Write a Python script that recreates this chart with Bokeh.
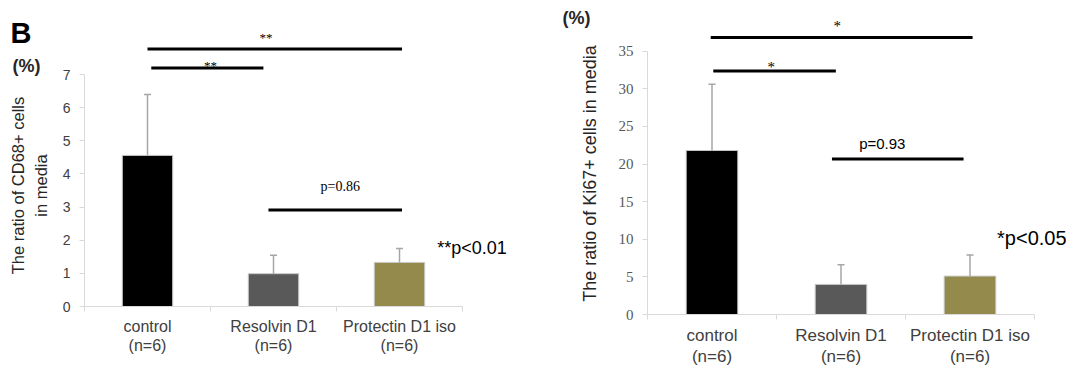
import math
from bokeh.plotting import figure
from bokeh.models import (ColumnDataSource, FixedTicker, Range1d, Label, Whisker, TeeHead)
from bokeh.layouts import row
from bokeh.embed import file_html
from bokeh.resources import INLINE

# ---------------- data ----------------
groups = ["control\n(n=6)", "Resolvin D1\n(n=6)", "Protectin D1 iso\n(n=6)"]
group_pos = [0.5, 1.5, 2.5]
bar_colors = ["#000000", "#595959", "#948A4C"]

cd68_mean = [4.56, 0.99, 1.33]
cd68_sd = [1.84, 0.56, 0.42]
cd68_ticks = [0, 1, 2, 3, 4, 5, 6, 7]
cd68_ylabel = ["The ratio of CD68+ cells", "in media"]

ki67_mean = [21.8, 4.0, 5.1]
ki67_sd = [8.8, 2.6, 2.8]
ki67_ticks = [0, 5, 10, 15, 20, 25, 30, 35]
ki67_ylabel = ["The ratio of Ki67+ cells in media"]

# significance brackets: (x_start, x_end, y, label, label_x, label_y)
cd68_brackets = [
    (0.50, 2.52, 7.77, "**", 1.44, 8.13),
    (0.53, 1.42, 7.20, "**", 1.00, 7.27),
    (1.46, 2.52, 2.91, "p=0.86", 2.03, 3.61),
]
ki67_brackets = [
    (0.49, 2.52, 36.8, "*", 1.47, 38.4),
    (0.51, 1.46, 32.35, "*", 0.96, 32.9),
    (1.43, 2.45, 20.65, "p=0.93", 1.82, 22.7),
]

GRAY_AXIS = "#d9d9d9"
SANS = "Liberation Sans"
SERIF = "Liberation Serif"
BOTTOM = 50


def text_strip(x0, width, height):
    """Axis-free strip in page-pixel coordinates (y from top) for side titles."""
    f = figure(frame_width=width, frame_height=height, output_backend="svg",
               toolbar_location=None, tools="",
               x_range=Range1d(x0, x0 + width), y_range=Range1d(height, 0),
               x_axis_type=None, y_axis_type=None,
               min_border_left=0, min_border_right=0,
               min_border_top=0, min_border_bottom=BOTTOM)
    f.outline_line_color = None
    f.xgrid.grid_line_color = None
    f.ygrid.grid_line_color = None
    return f


def make_panel(means, sds, yticks, ymax_axis, y_end, x_end, fw, fh,
               border_left, tick_font, tick_size, tick_color, cat_size):
    p = figure(frame_width=fw, frame_height=fh, output_backend="svg",
               toolbar_location=None, tools="",
               x_range=Range1d(0, x_end), y_range=Range1d(0, y_end),
               min_border_left=border_left, min_border_right=0,
               min_border_top=0, min_border_bottom=BOTTOM)
    p.outline_line_color = None
    p.xgrid.grid_line_color = None
    p.ygrid.grid_line_color = None
    p.background_fill_color = "white"

    ya = p.yaxis[0]
    ya.ticker = FixedTicker(ticks=yticks)
    ya.bounds = (0, ymax_axis)
    ya.axis_line_color = GRAY_AXIS
    ya.major_tick_line_color = GRAY_AXIS
    ya.major_tick_out = 5
    ya.major_tick_in = 0
    ya.minor_tick_line_color = None
    ya.major_label_text_font = tick_font
    ya.major_label_text_font_size = tick_size
    ya.major_label_text_color = tick_color
    ya.major_label_standoff = 9

    xa = p.xaxis[0]
    xa.ticker = FixedTicker(ticks=group_pos, minor_ticks=[0, 1, 2, 3])
    xa.bounds = (0, 3)
    xa.axis_line_color = GRAY_AXIS
    xa.major_tick_line_color = None
    xa.major_tick_out = 0
    xa.major_tick_in = 0
    xa.minor_tick_line_color = GRAY_AXIS
    xa.minor_tick_out = 5
    xa.minor_tick_in = 0
    xa.major_label_overrides = {pos: g for pos, g in zip(group_pos, groups)}
    xa.major_label_text_font = SANS
    xa.major_label_text_font_size = cat_size
    xa.major_label_text_color = "#404040"
    xa.major_label_text_line_height = 1.15
    xa.major_label_standoff = 6

    src = ColumnDataSource(dict(
        x=group_pos, top=means, color=bar_colors,
        upper=[m + s for m, s in zip(means, sds)], lower=means))
    p.vbar(x="x", top="top", width=0.4, bottom=0, source=src,
           fill_color="color", line_color="#c8c8c8", line_width=1)
    wh = Whisker(base="x", upper="upper", lower="lower", source=src,
                 line_color="#a6a6a6", line_width=1.5,
                 upper_head=TeeHead(size=7, line_color="#a6a6a6", line_width=1.5),
                 lower_head=None, level="overlay")
    p.add_layout(wh)
    return p


# ---------------- left side strip (page x 0..58) ----------------
hl = text_strip(0, 58, 306)
hl.add_layout(Label(x=10, y=32, text="B", text_align="left", text_baseline="middle",
                    text_font=SANS, text_font_style="bold", text_font_size="29px",
                    text_color="black"))
hl.add_layout(Label(x=12, y=65, text="(%)", text_align="left", text_baseline="middle",
                    text_font=SANS, text_font_style="bold", text_font_size="18px",
                    text_color="#262626"))
for i, line in enumerate(cd68_ylabel):
    hl.add_layout(Label(x=17 + 23 * i, y=185, text=line, angle=math.pi / 2,
                        text_align="center", text_baseline="middle",
                        text_font=SANS, text_font_size="16.5px", text_color="#262626"))

# ---------------- left panel: CD68 (axis at page x 84, zero at page y 306) ----------------
p1 = make_panel(cd68_mean, cd68_sd, cd68_ticks, 7, 306 / 33.14, 461 / 126,
                fw=461, fh=306, border_left=26,
                tick_font=SANS, tick_size="14px", tick_color="#404040",
                cat_size="16px")
p1.segment(x0=[b[0] for b in cd68_brackets], x1=[b[1] for b in cd68_brackets],
           y0=[b[2] for b in cd68_brackets], y1=[b[2] for b in cd68_brackets],
           line_color="black", line_width=3)
for b in cd68_brackets:
    is_p = b[3].startswith("p")
    p1.add_layout(Label(x=b[4], y=b[5], text=b[3], text_align="center",
                        text_baseline="middle", text_font=SERIF,
                        text_font_size="14px" if is_p else "13px",
                        text_color="black"))
p1.add_layout(Label(x=2.80, y=1.77, text="**p<0.01", text_align="left",
                    text_baseline="middle", text_font=SANS,
                    text_font_size="18px", text_color="black"))

# ---------------- right side strip (page x 545..605) ----------------
hr = text_strip(545, 60, 314)
hr.add_layout(Label(x=562, y=17, text="(%)", text_align="left", text_baseline="middle",
                    text_font=SANS, text_font_style="bold", text_font_size="18px",
                    text_color="#262626"))
hr.add_layout(Label(x=589, y=173, text=ki67_ylabel[0], angle=math.pi / 2,
                    text_align="center", text_baseline="middle",
                    text_font=SANS, text_font_size="18px", text_color="#262626"))

# ---------------- right panel: Ki67 (axis at page x 647, zero at page y 314) ----------------
p2 = make_panel(ki67_mean, ki67_sd, ki67_ticks, 35, 314 / 7.525, 419 / 129,
                fw=419, fh=314, border_left=42,
                tick_font=SERIF, tick_size="15px", tick_color="#595959",
                cat_size="17px")
p2.segment(x0=[b[0] for b in ki67_brackets], x1=[b[1] for b in ki67_brackets],
           y0=[b[2] for b in ki67_brackets], y1=[b[2] for b in ki67_brackets],
           line_color="black", line_width=3)
for b in ki67_brackets:
    is_p = b[3].startswith("p")
    p2.add_layout(Label(x=b[4], y=b[5], text=b[3], text_align="center",
                        text_baseline="middle",
                        text_font=SANS if is_p else SERIF,
                        text_font_size="15px", text_color="black"))
p2.add_layout(Label(x=2.71, y=10.23, text="*p<0.05", text_align="left",
                    text_baseline="middle", text_font=SANS,
                    text_font_size="20px", text_color="black"))

layout = row(hl, p1, hr, p2)
open("out.html", "w").write(file_html(layout, INLINE))
